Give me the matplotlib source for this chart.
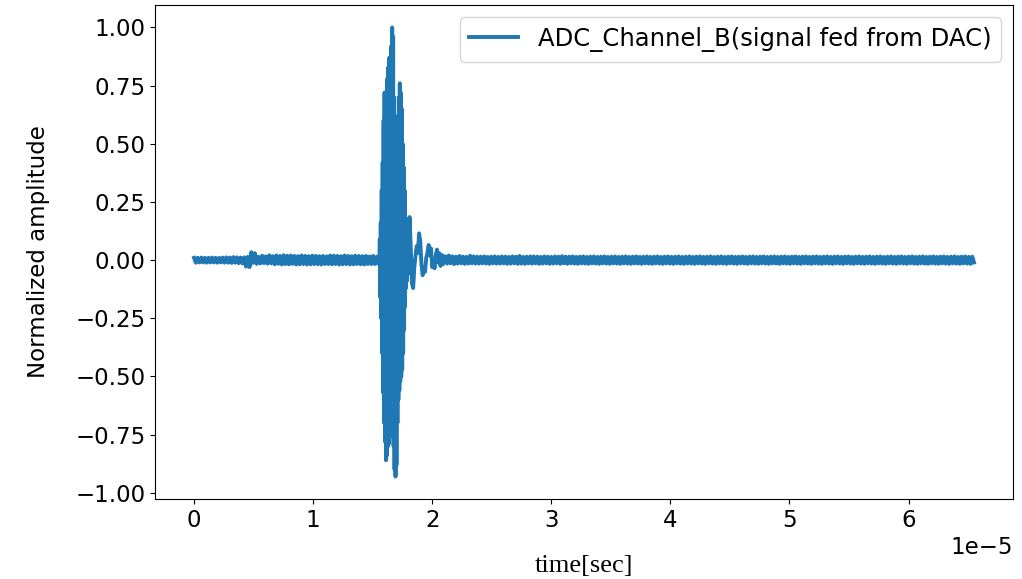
import numpy as np
import matplotlib
matplotlib.use("Agg")
import matplotlib.pyplot as plt

# section 1 - quiet part before the burst (time in units of 1e-5 s, amplitude in 1e-3)
pre_t0, pre_t1 = 0.0, 1.55
pre_v = [
    10, -11, 10, -10, 11, -10, 10, -11, 10, -10,
    11, -10, 10, -11, 10, -10, 11, -11, 12, -11,
    11, -12, 13, -11, 12, -13, 11, -14, 12, -28,
    14, -30, 34, -12, 30, -16, 14, -14, 19, -13,
    16, -15, 21, -14, 17, -18, 20, -16, 18, -19,
    21, -17, 19, -18, 20, -16, 18, -19, 17, -18,
    20, -17, 18, -19, 17, -18, 19, -17, 18, -18,
    17, -19, 18, -17, 16, -17, 20, -18, 19, -17,
    18, -19, 17, -18, 20, -17, 18, -19, 17, -18,
    19, -17, 18, -18, 17, -19, 18, -17, 16, -17,
    18, -17, 15, -14,
]

# section 2 - the burst
burst_t0, burst_t1 = 1.552, 1.808
burst_v = [
    12, -20, 90, -160, 160, -250, 300, -400, 420, -570,
    600, -700, 720, -780, 650, -860, 700, -840, 780, -800,
    830, -790, 870, -760, 850, -740, 920, -720, 1000, -700,
    960, -800, 700, -900, 550, -930, 500, -880, 450, -700,
    620, -600, 700, -560, 760, -520, 720, -500, 650, -470,
    500, -400, 400, -300, 300, -200, 180, -120, 150, -90,
    160, -60, 120, -40, 100,
]

# section 3 - ringing after the burst
ring_t0, ring_t1 = 1.81, 2.10
ring_v = [
    185, 50, -100, -120, -30, 20, 60, 30, 115, 80,
    -20, -65, -30, -50, 10, 30, 65, 20, 50, -30,
    -10, -35, 20, 45, -10, 30, -25, 22, -18, 16,
]

# section 4 - tail
post_t0, post_t1 = 2.11, 6.55
post_v = [
    16, -15, 20, -14, 16, -17, 15, -15, 18, -14,
    15, -16, 14, -15, 19, -14, 16, -15, 15, -15,
    15, -14, 16, -15, 14, -16, 15, -14, 16, -15,
    14, -15, 16, -14, 15, -16, 14, -15, 16, -14,
    15, -16, 18, -15, 14, -16, 15, -14, 16, -15,
    16, -14, 15, -16, 14, -15, 16, -14, 15, -16,
    14, -15, 16, -14, 15, -16, 17, -14, 15, -16,
    15, -14, 16, -15, 14, -16, 15, -14, 16, -15,
    14, -16, 15, -14, 16, -15, 14, -16, 15, -14,
    16, -15, 14, -16, 15, -14, 16, -15, 14, -16,
    15, -14, 16, -15, 14, -16, 15, -14, 16, -15,
    14, -16, 15, -14, 16, -15, 14, -16, 15, -14,
    16, -15, 14, -16, 15, -14, 16, -15, 14, -16,
    15, -14, 16, -15, 14, -16, 15, -14, 16, -15,
    14, -16, 15, -14, 16, -15, 14, -16, 15, -14,
    16, -15, 14, -16, 15, -14, 16, -15, 14, -16,
    15, -14, 16, -15, 14, -16, 15, -14, 16, -15,
    14, -16, 15, -14, 16, -15, 14, -16, 15, -14,
    16, -15, 14, -16, 15, -14, 16, -15, 14, -16,
    15, -14, 16, -15, 14, -16, 15, -14, 16, -15,
    14, -16, 15, -14, 16, -15, 14, -16, 15, -14,
    16, -15, 14, -16, 15, -14, 16, -15, 14, -16,
    15, -14, 16, -15, 14, -16, 15, -14, 16, -15,
    14, -16, 15, -14, 16, -15, 14, -16, 15, -14,
    16, -15, 14, -16, 15, -14, 16, -15, 14, -16,
    15, -14, 16, -15, 14, -16, 15, -14, 16, -15,
    14, -16, 15, -14, 16, -15, 14, -16, 15, -14,
    16, -15, 14, -16, 15, -14, 16, -15, 14, -16,
    15, -14, 16, -15, 14, -16, 15, -14, 16, -15,
    14, -16, 15, -14, 16, -15, 14, -16, 15, -10,
]

segments = [
    (pre_t0, pre_t1, pre_v),
    (burst_t0, burst_t1, burst_v),
    (ring_t0, ring_t1, ring_v),
    (post_t0, post_t1, post_v),
]
t = np.concatenate([np.linspace(a, b, len(v)) for a, b, v in segments]) * 1e-5
y = np.concatenate([np.array(v) for a, b, v in segments]) / 1000.0

fig = plt.figure(figsize=(10.22, 5.79), dpi=100)
ax = fig.add_axes([0.1517, 0.1382, 0.8395, 0.8532])
ax.plot(t, y, color="#1f77b4", lw=2.8, label="ADC_Channel_B(signal fed from DAC)")

ax.legend(loc="upper right", fontsize=17.5)
ax.set_xlabel("time[sec]", family="Liberation Serif", fontsize=19, labelpad=17)
ax.set_ylabel("Normalized amplitude", fontsize=16.5, labelpad=18)
ax.tick_params(labelsize=16.5)
ax.xaxis.get_offset_text().set_fontsize(16.5)

fig.savefig("out.png", dpi=100)
